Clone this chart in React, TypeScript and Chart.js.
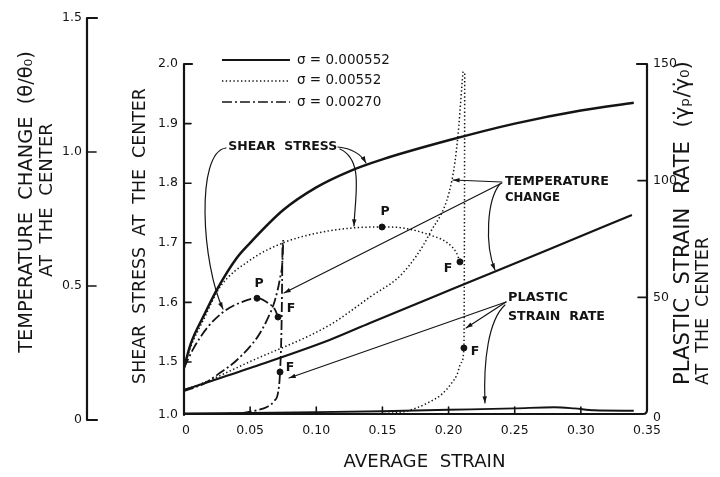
import React, { useEffect, useRef } from 'react';
import { Chart, registerables } from 'chart.js';
Chart.register(...registerables);

// ---------------- DATA ----------------
// x axis: average strain
const xTicks = [0, 0.05, 0.1, 0.15, 0.2, 0.25, 0.3, 0.35];
const xTickLabels = ['0', '0.05', '0.10', '0.15', '0.20', '0.25', '0.30', '0.35'];
const shearTicks = [1.5, 1.6, 1.7, 1.8, 1.9, 2.0];
const shearTickLabels = ['1.5', '1.6', '1.7', '1.8', '1.9', '2.0'];
const tempTicks = [0, 0.5, 1.0, 1.5];
const tempTickLabels = ['0', '0.5', '1.0', '1.5'];
const rateTicks = [0, 50, 100, 150];
const rateTickLabels = ['0', '50', '100', '150'];

const legendLabels = ['σ = 0.000552', 'σ = 0.00552', 'σ = 0.00270'];

// shear stress at the center
const shearSolidX = [0, 0.005, 0.015, 0.025, 0.04, 0.05, 0.075, 0.1, 0.125, 0.15, 0.2, 0.25, 0.3, 0.34];
const shearSolidY = [1.49, 1.53, 1.578, 1.622, 1.675, 1.7, 1.755, 1.793, 1.82, 1.84, 1.872, 1.9, 1.922, 1.935];
const shearDottedX = [0, 0.005, 0.015, 0.027, 0.05, 0.075, 0.1, 0.128, 0.15, 0.165, 0.186, 0.199, 0.206, 0.2086];
const shearDottedY = [1.49, 1.525, 1.572, 1.625, 1.671, 1.7, 1.716, 1.725, 1.7265, 1.725, 1.713, 1.7, 1.683, 1.668];
const shearDashedX = [0, 0.007, 0.0174, 0.031, 0.042, 0.0552, 0.0635, 0.069, 0.0711];
const shearDashedY = [1.49, 1.522, 1.557, 1.586, 1.599, 1.607, 1.599, 1.587, 1.575];

// temperature change at the center
const tempSolidX = [0, 0.05, 0.11, 0.1406, 0.201, 0.2766, 0.3386];
const tempSolidY = [0.112, 0.194, 0.2985, 0.362, 0.485, 0.638, 0.765];
const tempDottedX = [0, 0.0144, 0.05, 0.11, 0.1406, 0.1655, 0.186, 0.2026, 0.207, 0.21, 0.2109];
const tempDottedY = [0.112, 0.138, 0.218, 0.354, 0.459, 0.549, 0.698, 0.896, 1.056, 1.243, 1.3];
const tempDashedX = [0, 0.0144, 0.027, 0.04, 0.056, 0.0627, 0.0688, 0.0726, 0.0745, 0.075];
const tempDashedY = [0.108, 0.134, 0.175, 0.224, 0.313, 0.373, 0.448, 0.53, 0.6, 0.672];

// plastic strain rate at the center
const rateSolidX = [0, 0.05, 0.1, 0.15, 0.2, 0.25, 0.28, 0.295, 0.31, 0.34];
const rateSolidY = [0.2, 0.5, 0.8, 1.2, 1.8, 2.4, 2.9, 2.4, 1.6, 1.4];
const rateDottedX = [0.14, 0.155, 0.17, 0.184, 0.195, 0.202, 0.2065, 0.2095, 0.2116, 0.212, 0.2122];
const rateDottedY = [0, 0.3, 1.5, 4.7, 8.5, 13, 17, 22, 28.3, 80, 146];
const rateDashedX = [0.03, 0.045, 0.055, 0.0627, 0.068, 0.0712, 0.0726, 0.0738, 0.0745];
const rateDashedY = [0, 0.5, 1.6, 3.0, 5.5, 9.5, 18, 40, 74.6];

// marked points P (peak) and F
const peakX = [0.1497, 0.0552];
const peakY = [1.7265, 1.607];
const fShearX = [0.2086, 0.0711];
const fShearY = [1.668, 1.5755];
const fRateX = [0.2116, 0.0726];
const fRateY = [28.3, 18.0];

// ---------------- STYLE ----------------
const INK = '#141414';
const FONT = '"DejaVu Sans", "Liberation Sans", sans-serif';
const DOT = [1.4, 2.4];
const DASHDOT = [10, 3, 2, 3];

const pts = (xs: number[], ys: number[]) => xs.map((x, i) => ({ x, y: ys[i] }));

function arrowHead(ctx: CanvasRenderingContext2D, x0: number, y0: number, x1: number, y1: number, size = 7) {
  const a = Math.atan2(y1 - y0, x1 - x0);
  ctx.beginPath();
  ctx.moveTo(x1, y1);
  ctx.lineTo(x1 - size * Math.cos(a - 0.33), y1 - size * Math.sin(a - 0.33));
  ctx.lineTo(x1 - size * Math.cos(a + 0.33), y1 - size * Math.sin(a + 0.33));
  ctx.closePath();
  ctx.fill();
}

function fitText(ctx: CanvasRenderingContext2D, text: string, width: number, weight = 'normal') {
  ctx.font = `${weight} 20px ${FONT}`;
  const w = ctx.measureText(text).width;
  const size = (20 * width) / w;
  ctx.font = `${weight} ${size.toFixed(2)}px ${FONT}`;
}

// annotation leaders in data units (x = strain, y = shear stress)
const leaders: { kind: 'line' | 'curve'; p: number[][]; arrow: boolean }[] = [
  { kind: 'curve', p: [[0.0317, 1.8591], [0.0085, 1.8524], [0.0135, 1.6628], [0.0295, 1.5889]], arrow: true },
  { kind: 'curve', p: [[0.1164, 1.8607], [0.128, 1.858], [0.134, 1.848], [0.1376, 1.8339]], arrow: true },
  { kind: 'curve', p: [[0.1179, 1.8574], [0.136, 1.839], [0.1293, 1.78], [0.1285, 1.7282]], arrow: true },
  { kind: 'line', p: [[0.2403, 1.802], [0.2033, 1.8054]], arrow: true },
  { kind: 'line', p: [[0.2403, 1.8003], [0.0756, 1.6158]], arrow: true },
  { kind: 'curve', p: [[0.2389, 1.7987], [0.2288, 1.7718], [0.2273, 1.6963], [0.2351, 1.6544]], arrow: true },
  { kind: 'line', p: [[0.2434, 1.6007], [0.2132, 1.557]], arrow: true },
  { kind: 'line', p: [[0.2434, 1.6007], [0.0794, 1.4732]], arrow: true },
  { kind: 'curve', p: [[0.2426, 1.5956], [0.2303, 1.5705], [0.2262, 1.5034], [0.2275, 1.4312]], arrow: true },
];
const notes: { text: string; x: number; y: number; w: number }[] = [
  { text: 'SHEAR  STRESS', x: 0.0335, y: 1.8607, w: 109 },
  { text: 'TEMPERATURE', x: 0.2426, y: 1.802, w: 104 },
  { text: 'CHANGE', x: 0.2426, y: 1.7752, w: 55 },
  { text: 'PLASTIC', x: 0.2449, y: 1.6074, w: 60 },
  { text: 'STRAIN  RATE', x: 0.2449, y: 1.5755, w: 97 },
];

const decorPlugin = {
  id: 'decor',
  beforeDraw(chart: any) {
    const { ctx } = chart;
    ctx.save();
    ctx.fillStyle = '#fff';
    ctx.fillRect(0, 0, chart.width, chart.height);
    ctx.restore();
  },
  afterDatasetsDraw(chart: any) {
    const { ctx, chartArea } = chart;
    const sx = chart.scales.x;
    const sS = chart.scales.yS;
    const sT = chart.scales.yT;
    const sR = chart.scales.yR;
    const X = (v: number) => sx.getPixelForValue(v);
    const S = (v: number) => sS.getPixelForValue(v);
    ctx.save();
    ctx.strokeStyle = INK;
    ctx.fillStyle = INK;
    ctx.lineCap = 'round';
    ctx.lineJoin = 'round';

    // ---- frame axes ----
    const bottom = chartArea.bottom;
    const left = X(0);
    const right = X(0.35);
    ctx.lineWidth = 2.2;
    ctx.beginPath();
    ctx.moveTo(left, bottom);
    ctx.lineTo(right - 4, bottom);
    ctx.quadraticCurveTo(right, bottom, right, bottom - 4);
    ctx.lineTo(right, sR.getPixelForValue(150));
    ctx.lineTo(right - 10, sR.getPixelForValue(150));
    ctx.stroke();
    ctx.beginPath();
    ctx.moveTo(left + 8, S(2.0));
    ctx.lineTo(left, S(2.0));
    ctx.lineTo(left, bottom + 1);
    ctx.stroke();

    // x ticks (inward) and labels
    ctx.lineWidth = 1.6;
    ctx.font = `12.5px ${FONT}`;
    ctx.textAlign = 'center';
    ctx.textBaseline = 'middle';
    xTicks.forEach((t, i) => {
      const px = X(t);
      if (i > 0 && i < xTicks.length - 1) {
        ctx.beginPath();
        ctx.moveTo(px, bottom);
        ctx.lineTo(px, bottom - 7);
        ctx.stroke();
      }
      ctx.fillText(xTickLabels[i], px + (i === 0 ? 2 : 0), bottom + 17);
    });

    // shear ticks
    ctx.textAlign = 'right';
    shearTicks.forEach((t, i) => {
      const py = S(t);
      if (t < 2.0) {
        ctx.beginPath();
        ctx.moveTo(left, py);
        ctx.lineTo(left + 7, py);
        ctx.stroke();
      }
      ctx.fillText(shearTickLabels[i], left - 6, py);
    });
    ctx.fillText('1.0', left - 6, bottom + 1);

    // rate ticks
    ctx.textAlign = 'left';
    rateTicks.forEach((t, i) => {
      const py = sR.getPixelForValue(t);
      if (t > 0 && t < 150) {
        ctx.beginPath();
        ctx.moveTo(right, py);
        ctx.lineTo(right - 9, py);
        ctx.stroke();
      }
      ctx.fillText(rateTickLabels[i], right + 6, py + (t === 0 ? 4 : 0));
    });

    // temperature axis (offset to the left)
    const tx = left - 97;
    ctx.lineWidth = 2.2;
    ctx.beginPath();
    ctx.moveTo(tx + 10, sT.getPixelForValue(1.5));
    ctx.lineTo(tx, sT.getPixelForValue(1.5));
    ctx.lineTo(tx, sT.getPixelForValue(0));
    ctx.lineTo(tx + 10, sT.getPixelForValue(0));
    ctx.stroke();
    ctx.lineWidth = 1.6;
    ctx.textAlign = 'right';
    tempTicks.forEach((t, i) => {
      const py = sT.getPixelForValue(t);
      if (t > 0 && t < 1.5) {
        ctx.beginPath();
        ctx.moveTo(tx, py);
        ctx.lineTo(tx + 9, py);
        ctx.stroke();
      }
      ctx.fillText(tempTickLabels[i], tx - 5, py);
    });

    // ---- axis titles ----
    const vtext = (text: string, x: number, y: number, len: number, align: CanvasTextAlign = 'center') => {
      ctx.save();
      ctx.translate(x, y);
      ctx.rotate(-Math.PI / 2);
      fitText(ctx, text, len);
      ctx.textAlign = align;
      ctx.textBaseline = 'middle';
      ctx.fillText(text, 0, 0);
      ctx.restore();
    };
    vtext('TEMPERATURE  CHANGE  (θ/θ₀)', tx - 60, 202, 302);
    vtext('AT  THE  CENTER', tx - 40, 200, 154);
    vtext('SHEAR  STRESS  AT  THE  CENTER', left - 44, 236, 296);
    vtext('PLASTIC  STRAIN  RATE  (γ̇ₚ/γ̇₀)', right + 36, 385, 324, 'left');
    vtext('AT  THE  CENTER', right + 56, 385, 148, 'left');
    fitText(ctx, 'AVERAGE  STRAIN', 162);
    ctx.textAlign = 'center';
    ctx.textBaseline = 'middle';
    ctx.fillText('AVERAGE  STRAIN', (left + right) / 2 + 9, bottom + 48);

    // ---- legend ----
    const legendY = [2.0067, 1.9715, 1.9362];
    const dashes = [[], DOT, DASHDOT];
    const widths = [2.2, 1.4, 1.7];
    legendY.forEach((ly, i) => {
      ctx.save();
      ctx.setLineDash(dashes[i]);
      ctx.lineWidth = widths[i];
      ctx.lineCap = 'butt';
      ctx.beginPath();
      ctx.moveTo(X(0.0287), S(ly));
      ctx.lineTo(X(0.0801), S(ly));
      ctx.stroke();
      ctx.restore();
      ctx.font = `13.5px ${FONT}`;
      ctx.textAlign = 'left';
      ctx.textBaseline = 'middle';
      ctx.fillText(legendLabels[i], X(0.0854), S(ly));
    });

    // ---- annotation leaders ----
    ctx.lineWidth = 1.2;
    leaders.forEach((l) => {
      const q = l.p.map(([a, b]) => [X(a), S(b)]);
      ctx.beginPath();
      ctx.moveTo(q[0][0], q[0][1]);
      if (l.kind === 'line') ctx.lineTo(q[1][0], q[1][1]);
      else ctx.bezierCurveTo(q[1][0], q[1][1], q[2][0], q[2][1], q[3][0], q[3][1]);
      ctx.stroke();
      if (l.arrow) {
        const n = q.length;
        arrowHead(ctx, q[n - 2][0], q[n - 2][1], q[n - 1][0], q[n - 1][1]);
      }
    });
    ctx.textAlign = 'left';
    ctx.textBaseline = 'middle';
    notes.forEach((n) => {
      fitText(ctx, n.text, n.w, 'bold');
      ctx.fillText(n.text, X(n.x), S(n.y));
    });

    // ---- P / F labels ----
    ctx.font = `bold 12.5px ${FONT}`;
    ctx.textAlign = 'center';
    const pOff = [[3, -15], [2, -14]];
    peakX.forEach((v, i) => ctx.fillText('P', X(v) + pOff[i][0], S(peakY[i]) + pOff[i][1]));
    const fOff = [[-12, 7], [13, -8]];
    fShearX.forEach((v, i) => ctx.fillText('F', X(v) + fOff[i][0], S(fShearY[i]) + fOff[i][1]));
    const rOff = [[11, 4], [10, -4]];
    fRateX.forEach((v, i) => ctx.fillText('F', X(v) + rOff[i][0], sR.getPixelForValue(fRateY[i]) + rOff[i][1]));
    ctx.restore();
  },
};

export default function App() {
  const ref = useRef<HTMLCanvasElement>(null);
  useEffect(() => {
    document.body.style.margin = '0';
    const base = { pointRadius: 0, borderColor: INK, fill: false, cubicInterpolationMode: 'monotone' as const };
    const chart = new Chart(ref.current!, {
      type: 'line',
      data: {
        datasets: [
          { ...base, label: 'shear 0.000552', data: pts(shearSolidX, shearSolidY), yAxisID: 'yS', borderWidth: 2.5 },
          { ...base, label: 'shear 0.00552', data: pts(shearDottedX, shearDottedY), yAxisID: 'yS', borderWidth: 1.5, borderDash: DOT },
          { ...base, label: 'shear 0.00270', data: pts(shearDashedX, shearDashedY), yAxisID: 'yS', borderWidth: 1.8, borderDash: DASHDOT },
          { ...base, label: 'temp 0.000552', data: pts(tempSolidX, tempSolidY), yAxisID: 'yT', borderWidth: 2.2 },
          { ...base, label: 'temp 0.00552', data: pts(tempDottedX, tempDottedY), yAxisID: 'yT', borderWidth: 1.5, borderDash: DOT },
          { ...base, label: 'temp 0.00270', data: pts(tempDashedX, tempDashedY), yAxisID: 'yT', borderWidth: 1.8, borderDash: DASHDOT },
          { ...base, label: 'rate 0.000552', data: pts(rateSolidX, rateSolidY), yAxisID: 'yR', borderWidth: 1.9 },
          { ...base, label: 'rate 0.00552', data: pts(rateDottedX, rateDottedY), yAxisID: 'yR', borderWidth: 1.5, borderDash: DOT },
          { ...base, label: 'rate 0.00270', data: pts(rateDashedX, rateDashedY), yAxisID: 'yR', borderWidth: 1.8, borderDash: DASHDOT },
          { label: 'P', data: pts(peakX, peakY), yAxisID: 'yS', showLine: false, pointRadius: 3, pointBackgroundColor: INK, pointBorderColor: INK },
          { label: 'F', data: pts(fShearX, fShearY), yAxisID: 'yS', showLine: false, pointRadius: 3, pointBackgroundColor: INK, pointBorderColor: INK },
          { label: 'F rate', data: pts(fRateX, fRateY), yAxisID: 'yR', showLine: false, pointRadius: 3, pointBackgroundColor: INK, pointBorderColor: INK },
        ],
      },
      options: {
        responsive: false,
        animation: false,
        devicePixelRatio: 1,
        layout: { padding: { left: 184, top: 64, right: 73, bottom: 63 } },
        plugins: { legend: { display: false }, tooltip: { enabled: false } },
        scales: {
          x: { type: 'linear', min: 0, max: 0.35, display: false },
          yS: { type: 'linear', position: 'left', min: 1.41275, max: 2.0, display: false },
          yT: { type: 'linear', position: 'left', min: 0.0224, max: 1.3284, display: false },
          yR: { type: 'linear', position: 'right', min: 0, max: 150, display: false },
        },
      },
      plugins: [decorPlugin],
    });
    return () => chart.destroy();
  }, []);
  return (
    <div style={{ width: 720, height: 477, background: '#fff' }}>
      <canvas ref={ref} width={720} height={477} style={{ display: 'block', width: 720, height: 477 }} />
    </div>
  );
}
